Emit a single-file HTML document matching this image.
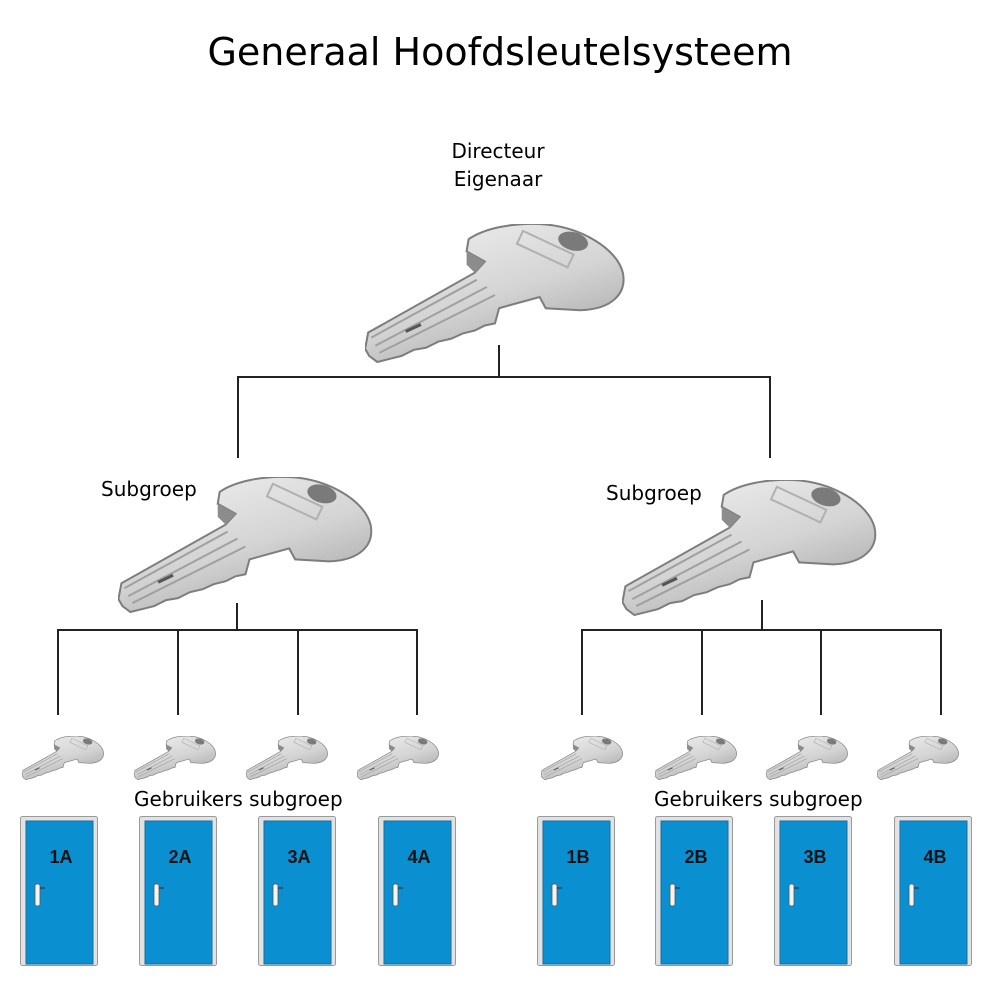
<!DOCTYPE html>
<html><head><meta charset="utf-8"><style>
body{margin:0;background:#fff;}
svg{display:block;}
text{font-family:"Liberation Sans","DejaVu Sans",sans-serif;}
.t{font-family:"DejaVu Sans","Liberation Sans",sans-serif;}
</style></head><body>
<svg width="1000" height="1000" viewBox="0 0 1000 1000" xmlns="http://www.w3.org/2000/svg">
<defs>
<linearGradient id="kg" x1="0" y1="0" x2="0.6" y2="1">
<stop offset="0" stop-color="#f2f2f2"/><stop offset="0.6" stop-color="#d4d4d4"/><stop offset="1" stop-color="#acacac"/>
</linearGradient>
<symbol id="key" viewBox="0 0 256 137">
<path d="M102,15 C118,4 145,-1 172,0 C212,2 248,24 254,48 C258,68 244,84 212,85 L178,83 L172,72 L150,78 L132,83 L128,98 L118,100 L108,105 L96,108 L85,113 L72,116 L60,122 L48,124 L36,130 L24,133 L12,136 L4,130 L0,123 L3,107 L108,48 L118,37 L100,27 Z" fill="url(#kg)" stroke="#7d7d7d" stroke-width="2"/>
<path d="M100,27 L118,37 L108,48 L100,40 Z" fill="#8c8c8c"/>
<path d="M6,112 L110,55 M10,120 L120,62 M14,127 L128,70" stroke="#a0a0a0" stroke-width="2" fill="none"/>
<path d="M40,106 L55,99" stroke="#555" stroke-width="3"/>
<ellipse cx="205" cy="17" rx="15" ry="9" transform="rotate(15 205 17)" fill="#7a7a7a"/>
<rect x="150" y="18" width="55" height="14" transform="rotate(25 178 25)" fill="none" stroke="#b0b0b0" stroke-width="2"/>
</symbol>
<symbol id="door" viewBox="0 0 78 150">
<rect x="0.5" y="0.5" width="77" height="149" rx="2" fill="#e2e2e2" stroke="#9a9a9a"/>
<rect x="6" y="5" width="67" height="143" fill="#0a8fd0"/>
<rect x="6" y="5" width="67" height="143" fill="none" stroke="#1b6fa0" stroke-width="1"/>
<rect x="15" y="68" width="5" height="22" rx="2" fill="#f4f4f4" stroke="#555" stroke-width="0.8"/>
<path d="M20,72 L25,72" stroke="#333" stroke-width="1.2"/>
</symbol>
</defs>

<text x="500" y="65" font-size="38" text-anchor="middle" class="t" fill="#000">Generaal Hoofdsleutelsysteem</text>
<text x="498" y="158" font-size="20" text-anchor="middle" class="t">Directeur</text>
<text x="498" y="186" font-size="20" text-anchor="middle" class="t">Eigenaar</text>
<text x="101" y="496" font-size="20" class="t">Subgroep</text>
<text x="606" y="500" font-size="20" class="t">Subgroep</text>
<text x="134" y="806" font-size="20" class="t">Gebruikers subgroep</text>
<text x="654" y="806" font-size="20" class="t">Gebruikers subgroep</text>

<g stroke="#222" stroke-width="2" fill="none">
<path d="M499,345 V377 M238,377 H770 M238,376 V458 M770,376 V458"/>
<path d="M237,603 V630 M58,630 H417 M58,629 V715 M178,629 V715 M298,629 V715 M417,629 V715"/>
<path d="M762,600 V630 M582,630 H941 M582,629 V715 M702,629 V715 M821,629 V715 M941,629 V715"/>
</g>

<use href="#key" x="365" y="224" width="260" height="139"/>
<use href="#key" x="118" y="477" width="255" height="136"/>
<use href="#key" x="622" y="480" width="255" height="136"/>

<use href="#key" x="22" y="736" width="82" height="44"/>
<use href="#key" x="134" y="736" width="82" height="44"/>
<use href="#key" x="246" y="736" width="82" height="44"/>
<use href="#key" x="357" y="736" width="82" height="44"/>
<use href="#key" x="541" y="736" width="82" height="44"/>
<use href="#key" x="655" y="736" width="82" height="44"/>
<use href="#key" x="766" y="736" width="82" height="44"/>
<use href="#key" x="877" y="736" width="82" height="44"/>

<use href="#door" x="20" y="816" width="78" height="150"/>
<use href="#door" x="139" y="816" width="78" height="150"/>
<use href="#door" x="258" y="816" width="78" height="150"/>
<use href="#door" x="378" y="816" width="78" height="150"/>
<use href="#door" x="537" y="816" width="78" height="150"/>
<use href="#door" x="655" y="816" width="78" height="150"/>
<use href="#door" x="774" y="816" width="78" height="150"/>
<use href="#door" x="894" y="816" width="78" height="150"/>

<g font-size="18" font-weight="bold" fill="#111" text-anchor="middle">
<text x="61" y="863">1A</text>
<text x="180" y="863">2A</text>
<text x="299" y="863">3A</text>
<text x="419" y="863">4A</text>
<text x="578" y="863">1B</text>
<text x="696" y="863">2B</text>
<text x="815" y="863">3B</text>
<text x="935" y="863">4B</text>
</g>
</svg>
</body></html>
